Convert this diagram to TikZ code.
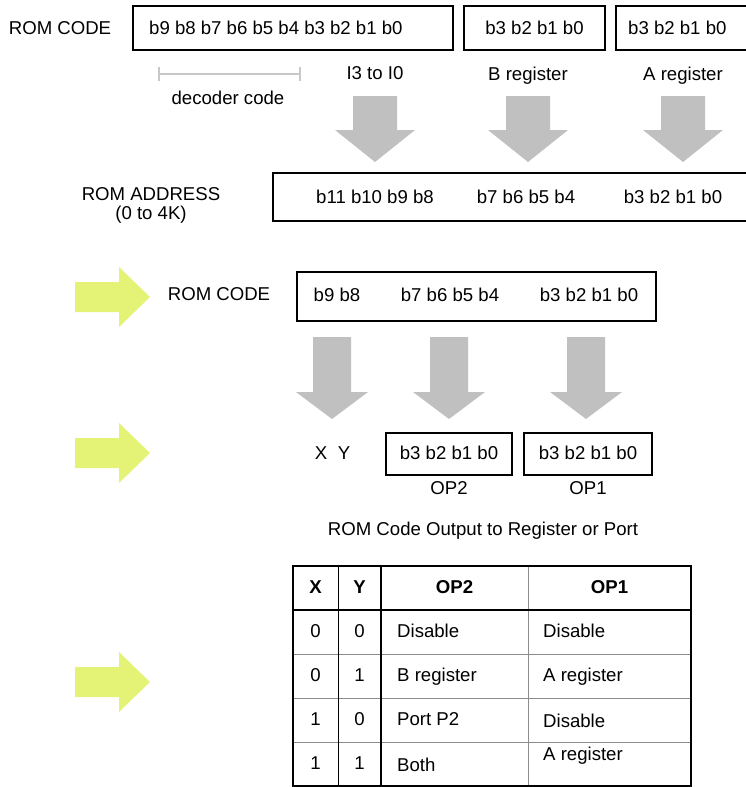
\documentclass[tikz,border=0pt]{standalone}
\usepackage{fontspec}
\setmainfont{Liberation Sans}
\definecolor{arrowgray}{RGB}{192,192,192}
\definecolor{arrowgreen}{RGB}{228,242,118}
\definecolor{decgray}{RGB}{200,200,200}
\definecolor{rulegray}{RGB}{140,140,140}
\newcommand\grayblockarrow[6]{% cx, top, base, tip, half shaft, half head
  \fill[arrowgray] (#1-#5,#2) -- (#1+#5,#2) -- (#1+#5,#3) -- (#1+#6,#3) -- (#1,#4)
    -- (#1-#6,#3) -- (#1-#5,#3) -- cycle;}
\newcommand\greenblockarrow[1]{% cy
  \fill[arrowgreen] (75,#1-15) -- (119,#1-15) -- (119,#1-30) -- (150,#1)
    -- (119,#1+30) -- (119,#1+15) -- (75,#1+15) -- cycle;}
\begin{document}
\begin{tikzpicture}[x=1pt,y=-1pt,
  txt/.style={inner sep=0pt, text height=13pt, text depth=4pt, font=\fontsize{18.6}{21}\selectfont},
  hdr/.style={txt, font=\fontsize{18.6}{21}\selectfont\bfseries},
  bitbox/.style={draw=black, line width=1.6pt, inner sep=0pt},
  decline/.style={draw=decgray, line width=1.6pt},
  thinrule/.style={draw=rulegray, line width=0.8pt},
  blackrule/.style={draw=black, line width=0.8pt},
  thickrule/.style={draw=black, line width=1.6pt}]
\useasboundingbox (0,0) rectangle (746,787);

% ---------- top row ----------
\node[txt] (romcode) at (60,30) {ROM CODE};
\node[bitbox, minimum width=320pt, minimum height=44pt] (rcbox) at (293,28) {};
\node[txt, anchor=west] (rcbits) at (149,30) {b9 b8 b7 b6 b5 b4 b3 b2 b1 b0};
\node[bitbox, minimum width=141pt, minimum height=44pt] (bbox) at (534.5,28) {};
\node[txt] (bbits) at (534.5,30) {b3 b2 b1 b0};
\node[bitbox, minimum width=144pt, minimum height=44pt] (abox) at (688,28) {};
\node[txt, anchor=west] (abits) at (628,30) {b3 b2 b1 b0};

\node[txt] (ilab) at (375,75) {I3 to I0};
\node[txt] (blab) at (528,76) {B register};
\node[txt] (alab) at (683,76) {A register};

\coordinate (d1) at (159,74);
\coordinate (d2) at (300,74);
\draw[decline] (d1) -- (d2);
\draw[decline] ([yshift=7pt]d1) -- ([yshift=-7pt]d1);
\draw[decline] ([yshift=7pt]d2) -- ([yshift=-7pt]d2);
\node[txt] (declab) at (228,100) {decoder code};

\grayblockarrow{375}{96}{130}{162}{22}{40}
\grayblockarrow{528}{96}{130}{162}{22}{40}
\grayblockarrow{683}{96}{130}{162}{22}{40}

% ---------- ROM address ----------
\node[txt] (raddr) at (151,196) {ROM ADDRESS};
\node[txt] (rrange) at (151,215) {(0 to 4K)};
\node[bitbox, minimum width=487pt, minimum height=48pt] (addrbox) at (516.5,197) {};
\node[txt] (ahi) at (375,199) {b11 b10 b9 b8};
\node[txt] (amid) at (526,199) {b7 b6 b5 b4};
\node[txt] (alo) at (673,199) {b3 b2 b1 b0};

% ---------- green arrows ----------
\greenblockarrow{297}
\greenblockarrow{453}
\greenblockarrow{682}

% ---------- ROM code (second) ----------
\node[txt] (romcode2) at (219,296) {ROM CODE};
\node[bitbox, minimum width=359pt, minimum height=49pt] (rc2box) at (476.5,296.5) {};
\node[txt] (c2a) at (337,297) {b9 b8};
\node[txt] (c2b) at (450,297) {b7 b6 b5 b4};
\node[txt] (c2c) at (589,297) {b3 b2 b1 b0};

\grayblockarrow{332}{337}{392}{419}{19}{36}
\grayblockarrow{449}{337}{392}{419}{19}{36}
\grayblockarrow{586}{337}{392}{419}{19}{36}

\node[txt] (xlab) at (321,455) {X};
\node[txt] (ylab) at (344,455) {Y};
\node[bitbox, minimum width=126pt, minimum height=42pt] (op2box) at (449,454) {};
\node[txt] (op2bits) at (449,455) {b3 b2 b1 b0};
\node[bitbox, minimum width=128pt, minimum height=42pt] (op1box) at (588,454) {};
\node[txt] (op1bits) at (588,455) {b3 b2 b1 b0};
\node[txt] (op2lab) at (449,490) {OP2};
\node[txt] (op1lab) at (588,490) {OP1};

\node[txt] (caption) at (483,531) {ROM Code Output to Register or Port};

% ---------- table ----------
\draw[thinrule] (293,654) -- (691,654);
\draw[thinrule] (293,698) -- (691,698);
\draw[thinrule] (293,742) -- (691,742);
\draw[thinrule] (528,566) -- (528,786);
\draw[blackrule] (338,566) -- (338,786);
\draw[thickrule] (381,566) -- (381,786);
\draw[thickrule] (293,610) -- (691,610);
\draw[thickrule] (293,566) rectangle (691,786);

\node[hdr] (hx) at (315.5,589) {X};
\node[hdr] (hy) at (359.5,589) {Y};
\node[hdr] (hop2) at (454.5,589) {OP2};
\node[hdr] (hop1) at (609.5,589) {OP1};

\node[txt] (x1) at (315.5,633) {0};
\node[txt] (y1) at (359.5,633) {0};
\node[txt, anchor=west] (p1) at (397,633) {Disable};
\node[txt, anchor=west] (q1) at (543,633) {Disable};

\node[txt] (x2) at (315.5,677) {0};
\node[txt] (y2) at (359.5,677) {1};
\node[txt, anchor=west] (p2) at (397,677) {B register};
\node[txt, anchor=west] (q2) at (543,677) {A register};

\node[txt] (x3) at (315.5,721) {1};
\node[txt] (y3) at (359.5,721) {0};
\node[txt, anchor=west] (p3) at (397,721) {Port P2};
\node[txt, anchor=west] (q3) at (543,723) {Disable};

\node[txt] (x4) at (315.5,765) {1};
\node[txt] (y4) at (359.5,765) {1};
\node[txt, anchor=west] (p4) at (397,767) {Both};
\node[txt, anchor=west] (q4) at (543,756) {A register};
\end{tikzpicture}
\end{document}
